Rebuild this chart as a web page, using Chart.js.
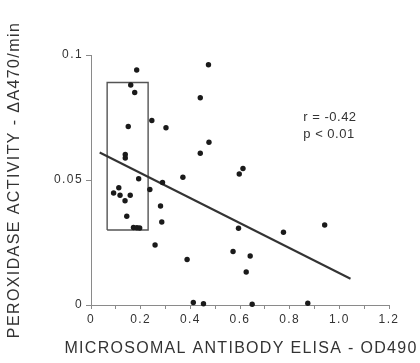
<!DOCTYPE html>
<html>
<head>
<meta charset="utf-8">
<script src="https://cdn.jsdelivr.net/npm/chart.js@4"></script>
<style>
  body { margin: 0; background: #fff; }
</style>
</head>
<body>
<canvas id="myChartPeroxidase" width="420" height="363"></canvas>
<script>
// values
var antibodyOD = [0.184, 0.160, 0.176, 0.150, 0.245, 0.302, 0.473, 0.440, 0.475, 0.440,
    0.138, 0.138, 0.192, 0.370, 0.597, 0.612, 0.288, 0.091, 0.112, 0.117,
    0.137, 0.158, 0.144, 0.237, 0.280, 0.285, 0.258, 0.387, 0.594, 0.572,
    0.641, 0.625, 0.775, 0.941, 0.412, 0.453, 0.649, 0.873, 0.171, 0.185, 0.196];
var peroxidase = [0.0940, 0.0880, 0.0850, 0.0714, 0.0738, 0.0709, 0.0961, 0.0829, 0.0651, 0.0607,
    0.0602, 0.0588, 0.0505, 0.0511, 0.0524, 0.0546, 0.0490, 0.0448, 0.0469, 0.0439,
    0.0417, 0.0439, 0.0355, 0.0462, 0.0396, 0.0332, 0.0240, 0.0182, 0.0307, 0.0214,
    0.0196, 0.0132, 0.0291, 0.0320, 0.0010, 0.0005, 0.0003, 0.0007, 0.0310, 0.0309, 0.0308];

// regression line end points
var fitX = [0.035, 1.045];
var fitY = [0.061, 0.0105];

// box drawn round the low-titre group
var boxX = [0.065, 0.23, 0.23, 0.065, 0.065];
var boxY = [0.030, 0.030, 0.089, 0.089, 0.030];

var xTickLabels = ['0', '0.2', '0.4', '0.6', '0.8', '1.0', '1.2'];
var yTickLabels = ['0', '0.05', '0.1'];
var xTitle = 'MICROSOMAL ANTIBODY ELISA - OD490';
var yTitle = 'PEROXIDASE ACTIVITY - ΔA470/min';
var statText = ['r = -0.42', 'p < 0.01'];
var statX = 0.855;
var statY = [0.0752, 0.0684];

function toPoints(xs, ys) {
    return xs.map(function (x, i) { return { x: x, y: ys[i] }; });
}

var textColor = '#333';
var axisColor = '#8a8a8a';
var fontFamily = '"Liberation Sans", Arial, sans-serif';

// letter spacing for ticks, x title (no width squeeze) and the r / p note
var extraText = {
    id: 'extraText',
    beforeDraw: function (chart) {
        chart.ctx.letterSpacing = '1.4px';
    },
    afterDraw: function (chart) {
        var ctx = chart.ctx;
        var xs = chart.scales.x, ys = chart.scales.y;
        ctx.save();
        ctx.fillStyle = textColor;

        ctx.letterSpacing = '1.3px';
        ctx.font = '16px ' + fontFamily;
        ctx.textAlign = 'center';
        ctx.textBaseline = 'middle';
        ctx.fillText(xTitle, (xs.left + xs.right) / 2 + 1, 349);

        ctx.letterSpacing = '0.5px';
        ctx.font = '13px ' + fontFamily;
        ctx.textAlign = 'left';
        statText.forEach(function (t, i) {
            ctx.fillText(t, xs.getPixelForValue(statX), ys.getPixelForValue(statY[i]));
        });
        ctx.restore();
    }
};

Chart.defaults.font.family = fontFamily;
Chart.defaults.color = textColor;

var ctx = document.getElementById('myChartPeroxidase');
var myChart = new Chart(ctx, {
    type: 'scatter',
    data: {
        datasets: [{
            label: 'samples',
            data: toPoints(antibodyOD, peroxidase),
            backgroundColor: '#1a1a1a',
            borderWidth: 0,
            pointRadius: 2.7,
            clip: false
        }, {
            label: 'fit',
            data: toPoints(fitX, fitY),
            showLine: true,
            borderColor: '#333',
            borderWidth: 2,
            pointRadius: 0
        }, {
            label: 'box',
            data: toPoints(boxX, boxY),
            showLine: true,
            borderColor: '#555',
            borderWidth: 1.4,
            pointRadius: 0
        }]
    },
    options: {
        responsive: false,
        animation: false,
        layout: { padding: { left: 0, top: 55, right: 31, bottom: 0 } },
        plugins: {
            legend: { display: false },
            tooltip: { enabled: false }
        },
        scales: {
            x: {
                type: 'linear',
                min: 0,
                max: 1.2,
                afterFit: function (scale) { scale.height = 58; },
                ticks: {
                    stepSize: 0.1,
                    padding: 3,
                    maxRotation: 0,
                    autoSkip: false,
                    font: { size: 12 },
                    callback: function (value, index) {
                        return index % 2 === 0 ? xTickLabels[index / 2] : '';
                    }
                },
                grid: { drawOnChartArea: false, color: axisColor, tickLength: 4 },
                border: { color: axisColor, width: 1 },
                title: { display: false }
            },
            y: {
                min: 0,
                max: 0.1,
                afterFit: function (scale) { scale.width = 91; },
                ticks: {
                    stepSize: 0.05,
                    padding: 3,
                    font: { size: 12 },
                    callback: function (value, index) {
                        return yTickLabels[index];
                    }
                },
                grid: { drawOnChartArea: false, color: axisColor, tickLength: 5 },
                border: { color: axisColor, width: 1 },
                title: {
                    display: true,
                    text: yTitle,
                    font: { size: 16 },
                    padding: { top: 5, bottom: 0 }
                }
            }
        }
    },
    plugins: [extraText]
});
</script>
</body>
</html>
